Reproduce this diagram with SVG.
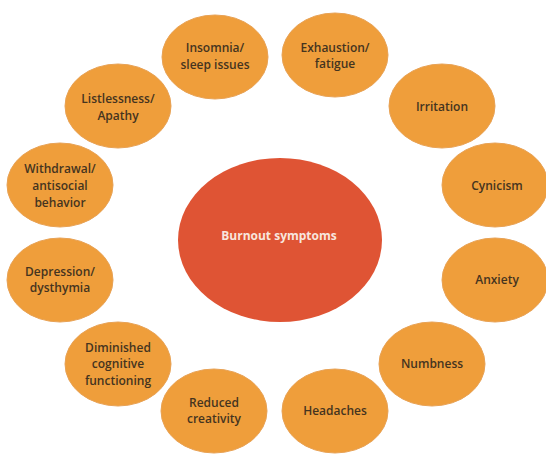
<svg xmlns="http://www.w3.org/2000/svg" width="546" height="454" viewBox="0 0 546 454">
  <style>
    .sym ellipse { fill: #EF9E3B; stroke: #E8A255; stroke-width: 1; }
    .sym text { font-family: "Open Sans", "Liberation Sans", sans-serif; font-size: 12px; font-weight: 600; fill: #45341F; text-anchor: middle; dominant-baseline: central; }
    #core ellipse { fill: #DF5434; }
    #core text { font-family: "Open Sans", "Liberation Sans", sans-serif; font-size: 12px; font-weight: 700; fill: #F8E6DE; text-anchor: middle; dominant-baseline: central; }
  </style>
  <rect width="546" height="454" fill="#FFFFFF"/>

  <!-- central node -->
  <g id="core">
    <ellipse cx="280" cy="240" rx="102" ry="82"/>
    <text x="279" y="235">Burnout symptoms</text>
  </g>

  <!-- surrounding symptom nodes -->
  <g id="insomnia" class="sym">
    <ellipse cx="215" cy="57" rx="53" ry="42"/>
    <text x="215" y="47">Insomnia/</text>
    <text x="215" y="64">sleep issues</text>
  </g>
  <g id="exhaustion" class="sym">
    <ellipse cx="335" cy="55" rx="53" ry="42"/>
    <text x="335" y="47">Exhaustion/</text>
    <text x="335" y="63">fatigue</text>
  </g>
  <g id="irritation" class="sym">
    <ellipse cx="442" cy="106" rx="53" ry="42"/>
    <text x="442" y="106">Irritation</text>
  </g>
  <g id="cynicism" class="sym">
    <ellipse cx="495" cy="185" rx="53" ry="42"/>
    <text x="497" y="185">Cynicism</text>
  </g>
  <g id="anxiety" class="sym">
    <ellipse cx="495" cy="280" rx="53" ry="42"/>
    <text x="497" y="279">Anxiety</text>
  </g>
  <g id="numbness" class="sym">
    <ellipse cx="432" cy="364" rx="53" ry="42"/>
    <text x="432" y="363">Numbness</text>
  </g>
  <g id="headaches" class="sym">
    <ellipse cx="335" cy="411" rx="53" ry="42"/>
    <text x="335" y="410">Headaches</text>
  </g>
  <g id="creativity" class="sym">
    <ellipse cx="214" cy="411" rx="53" ry="42"/>
    <text x="214" y="402">Reduced</text>
    <text x="214" y="418">creativity</text>
  </g>
  <g id="cognitive" class="sym">
    <ellipse cx="118" cy="364" rx="53" ry="42"/>
    <text x="118" y="347">Diminished</text>
    <text x="118" y="363">cognitive</text>
    <text x="118" y="380">functioning</text>
  </g>
  <g id="depression" class="sym">
    <ellipse cx="60" cy="280" rx="53" ry="42"/>
    <text x="60" y="271">Depression/</text>
    <text x="60" y="287">dysthymia</text>
  </g>
  <g id="withdrawal" class="sym">
    <ellipse cx="60" cy="185" rx="53" ry="42"/>
    <text x="60" y="168">Withdrawal/</text>
    <text x="60" y="185">antisocial</text>
    <text x="60" y="202">behavior</text>
  </g>
  <g id="listlessness" class="sym">
    <ellipse cx="118" cy="106" rx="53" ry="42"/>
    <text x="118" y="98">Listlessness/</text>
    <text x="118" y="115">Apathy</text>
  </g>
</svg>
